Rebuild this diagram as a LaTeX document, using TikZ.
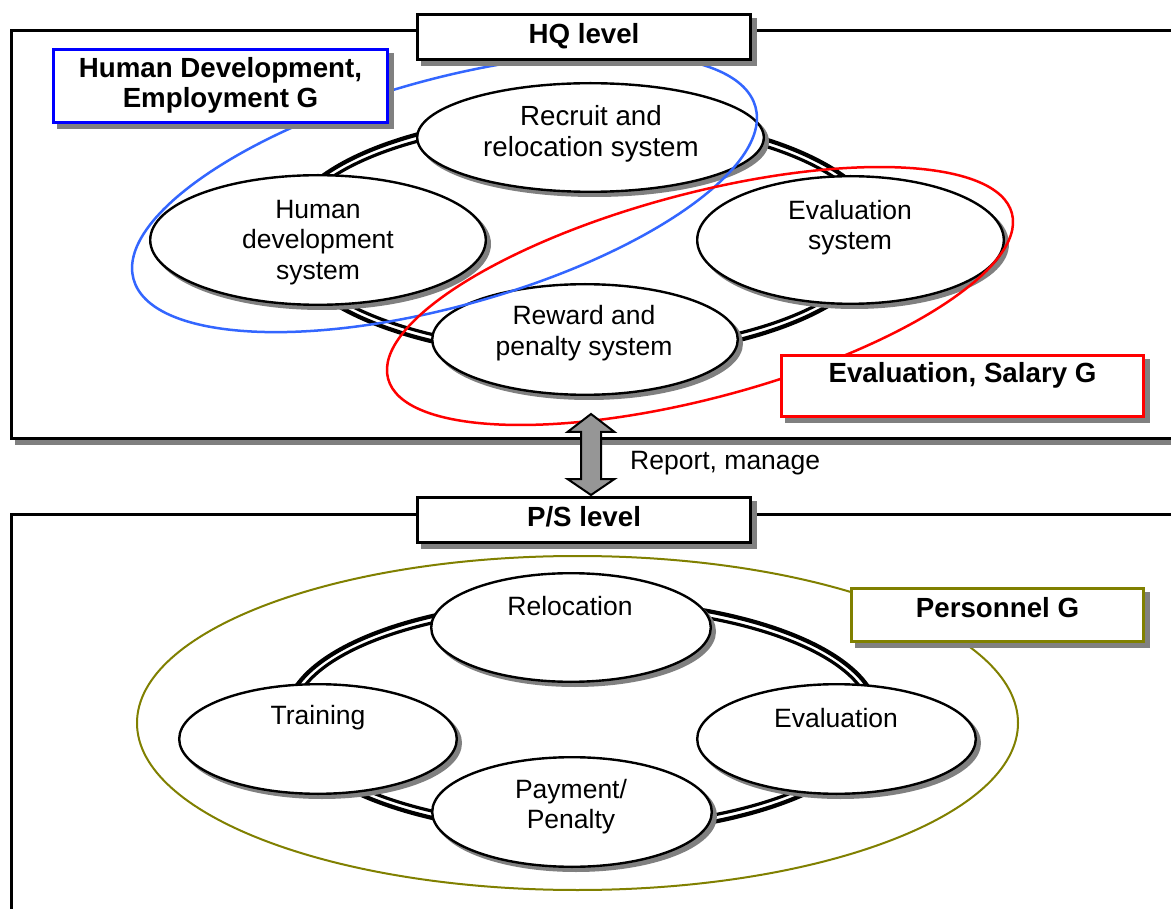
\documentclass[tikz,border=0pt]{standalone}
\usepackage{fontspec}
\setmainfont{Liberation Sans}
\usetikzlibrary{shapes.geometric}

\definecolor{shadowgrey}{RGB}{128,128,128}
\definecolor{groupblue}{RGB}{51,102,255}
\definecolor{boxblue}{RGB}{0,0,255}
\definecolor{groupred}{RGB}{255,0,0}
\definecolor{groupolive}{RGB}{128,128,0}
\definecolor{arrowgrey}{RGB}{150,150,150}

\newcommand\regtxt{\fontsize{26.5}{30.5}\selectfont}
\newcommand\bigregtxt{\fontsize{27.7}{31.5}\selectfont}
\newcommand\boldtxt{\fontsize{27.7}{30}\selectfont\bfseries}

\begin{document}
\begin{tikzpicture}[x=1pt,y=-1pt,
  ellshadow/.style={preaction={fill=shadowgrey, draw=shadowgrey,
      transform canvas={shift={(4pt,-4pt)}}}},
  boxshadow/.style={preaction={fill=shadowgrey, draw=shadowgrey,
      transform canvas={shift={(5pt,-5pt)}}}},
  levelframe/.style={rectangle, draw=black, line width=3pt, fill=white,
      inner sep=0pt, boxshadow},
  sysell/.style={ellipse, draw=black, line width=2.4pt, fill=white,
      inner sep=0pt, ellshadow},
  gbox/.style={rectangle, draw=black, line width=3pt, fill=white,
      inner sep=0pt, boxshadow},
  loop/.style={ellipse, line width=2.5pt, inner sep=0pt},
  ringout/.style={draw=black, line width=4.2pt},
  ringin/.style={draw=black, line width=3.2pt},
  systxt/.style={align=center, font=\regtxt, inner sep=0pt},
  grptxt/.style={align=center, font=\boldtxt, inner sep=0pt},
  blockarrow/.style={draw=black, line width=2pt, fill=arrowgrey, line join=miter}
]
\useasboundingbox (0,0) rectangle (1171,909);
\clip (0,0) rectangle (1171,909);

% ---------- HQ level ----------
\node[levelframe, minimum width=1200pt, minimum height=408pt, anchor=north west]
  (hqframe) at (10,29) {};

% ring joining the four systems
\draw[ringout] (583,236) ellipse [x radius=299, y radius=122];
\draw[ringin]  (583,236) ellipse [x radius=292, y radius=115];

\node[sysell, minimum width=346.6pt, minimum height=108.6pt] (recruit) at (590.5,137.5) {};
\node[sysell, minimum width=335.6pt, minimum height=129.6pt] (humdev)  at (318,240) {};
\node[sysell, minimum width=306.6pt, minimum height=127.6pt] (evalsys) at (850.5,240) {};
\node[sysell, minimum width=305.6pt, minimum height=110.6pt] (reward)  at (585,339.5) {};

\node[systxt, font=\bigregtxt] (recruit-t) at (591,134) {Recruit and\\relocation system};
\node[systxt] (humdev-t)  at (318,242.5) {Human\\development\\system};
\node[systxt] (evalsys-t) at (850,227.5) {Evaluation\\system};
\node[systxt] (reward-t)  at (584,333) {Reward and\\penalty system};

% responsibility groups at HQ
\node[loop, draw=groupblue, minimum width=645.4pt, minimum height=226.6pt, rotate=15.5]
  (hdgloop) at (444.5,193) {};
\node[loop, draw=groupred, minimum width=645.4pt, minimum height=204.8pt, rotate=14.85]
  (evgloop) at (700,296) {};

\node[gbox, minimum width=333pt, minimum height=45pt] (hqbox) at (584,37) {};
\node[grptxt] (hqbox-t) at (584,36) {HQ level};

\node[gbox, draw=boxblue, minimum width=334pt, minimum height=73pt] (hdgbox) at (220.5,86) {};
\node[grptxt] (hdgbox-t) at (220.5,85.5) {Human Development,\\Employment G};

\node[gbox, draw=groupred, minimum width=362pt, minimum height=61pt] (evgbox) at (962.5,386) {};
\node[grptxt] (evgbox-t) at (962.5,375) {Evaluation, Salary G};

% ---------- P/S level ----------
\node[levelframe, minimum width=1200pt, minimum height=500pt, anchor=north west]
  (psframe) at (10,513) {};

\node[loop, draw=groupolive, line width=2pt, minimum width=881pt, minimum height=334pt]
  (perloop) at (577.5,723) {};

\draw[ringout] (582,717) ellipse [x radius=296, y radius=117];
\draw[ringin]  (582,717) ellipse [x radius=289, y radius=110];

\node[sysell, minimum width=279.6pt, minimum height=108.6pt] (reloc) at (571,627.5) {};
\node[sysell, minimum width=277.6pt, minimum height=109.6pt] (train) at (318,739) {};
\node[sysell, minimum width=278.6pt, minimum height=109.6pt] (evalps) at (836.5,739) {};
\node[sysell, minimum width=279.6pt, minimum height=109.6pt] (pay) at (572,812) {};

\node[systxt] (reloc-t)  at (570,606) {Relocation};
\node[systxt] (train-t)  at (318,718) {Training};
\node[systxt] (evalps-t) at (836,718) {Evaluation};
\node[systxt] (pay-t)    at (571,806.5) {Payment/\\Penalty};

\node[gbox, minimum width=333pt, minimum height=45pt] (psbox) at (584,520) {};
\node[grptxt] (psbox-t) at (584,517) {P/S level};

\node[gbox, draw=groupolive, minimum width=292pt, minimum height=53pt] (perbox) at (997.5,615) {};
\node[grptxt] (perbox-t) at (997.5,608) {Personnel G};

% ---------- link between the levels ----------
\coordinate (arrtop) at (591,414);
\coordinate (arrbot) at (591,495);
\draw[blockarrow] (arrtop) -- ++(23.5,18) -- ++(-13.5,0) -- ++(0,47) -- ++(13.5,0)
  -- (arrbot) -- ++(-23.5,-16) -- ++(13.5,0) -- ++(0,-47) -- ++(-13.5,0) -- cycle;
\node[systxt, anchor=west] (linklabel) at (630,463) {Report, manage};

\end{tikzpicture}
\end{document}
